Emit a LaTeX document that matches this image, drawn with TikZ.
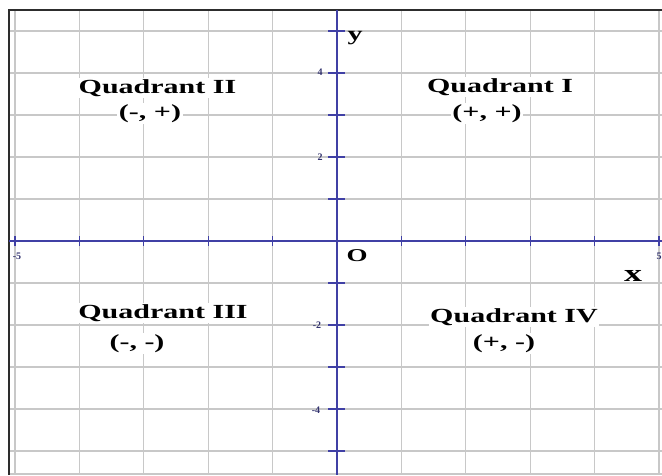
\documentclass[tikz,border=0pt]{standalone}
\usepackage{fontspec}
\setmainfont{Liberation Serif}
\usepackage{graphicx}
\definecolor{gridgray}{RGB}{200,200,200}
\definecolor{axisblue}{RGB}{64,64,165}
\definecolor{labblue}{RGB}{50,50,110}
\definecolor{framegray}{RGB}{45,45,45}
\newcommand{\wide}[1]{\scalebox{1.5}[1]{#1}}
\begin{document}
\begin{tikzpicture}[x=1pt,y=-1pt,
  gridline/.style={draw=gridgray,line width=1.3pt},
  frameline/.style={draw=framegray,line width=1.8pt},
  axisline/.style={draw=axisblue,line width=1.3pt},
  tickmark/.style={draw=axisblue,line width=1.1pt},
  quad/.style={fill=white,inner sep=1.5pt,anchor=base,font=\bfseries\fontsize{20}{24}\selectfont},
  ticklab/.style={text=labblue,inner sep=0pt,font=\bfseries\fontsize{10}{11}\selectfont},
  axlab/.style={inner sep=0pt,font=\bfseries\fontsize{20}{24}\selectfont}]
\useasboundingbox (0,0) rectangle (662,475);
\fill[white] (0,0) rectangle (662,475);
% grid
\foreach \k in {-5,...,5} {
  \draw[gridline] ({337+64.4*\k},10) -- ({337+64.4*\k},474);
  \draw[gridline] (9,{241+42*\k}) -- (662,{241+42*\k});
}
\draw[gridline] (9,474) -- (662,474);
% frame
\coordinate (fbl) at (9,475);
\coordinate (ftl) at (9,10);
\coordinate (ftr) at (662,10);
\draw[frameline] (fbl) -- (ftl) -- (ftr);
% labels with white backgrounds
\node[quad] (q2t) at (157.5,93) {\wide{Quadrant II}};
\node[quad] (q2s) at (150,118.5) {\wide{(-, +)}};
\node[quad] (q1t) at (500,92) {\wide{Quadrant I}};
\node[quad] (q1s) at (487,118) {\wide{(+, +)}};
\node[quad] (q3t) at (163,318) {\wide{Quadrant III}};
\node[quad] (q3s) at (137,348) {\wide{(-, -)}};
\node[quad] (q4t) at (514,322) {\wide{Quadrant IV}};
\node[quad] (q4s) at (504,348) {\wide{(+, -)}};
% axes
\coordinate (xl) at (9,241);
\coordinate (xr) at (662,241);
\coordinate (yt) at (337,10);
\coordinate (yb) at (337,475);
\draw[axisline] (xl) -- (xr);
\draw[axisline] (yt) -- (yb);
\foreach \k in {-5,...,-1,1,2,...,5} {
  \draw[tickmark] ({337+64.4*\k},236) -- ({337+64.4*\k},246);
  \draw[tickmark] (328,{241+42*\k}) -- (345,{241+42*\k});
}
% tick labels
\node[ticklab] (l4) at (320,72) {4};
\node[ticklab] (l2) at (320,157) {2};
\node[ticklab] (lm2) at (317,325) {-2};
\node[ticklab] (lm4) at (316,410) {-4};
\node[ticklab] (lm5) at (17,256) {-5};
\node[ticklab] (l5) at (659,256) {5};
% axis labels
\node[axlab] (ylab) at (355,38) {\wide{y}};
\node[axlab,font=\bfseries\fontsize{18}{20}\selectfont] (olab) at (357,256) {\wide{O}};
\node[axlab,font=\bfseries\fontsize{24}{26}\selectfont] (xlab) at (633,276) {\wide{x}};
\end{tikzpicture}
\end{document}
